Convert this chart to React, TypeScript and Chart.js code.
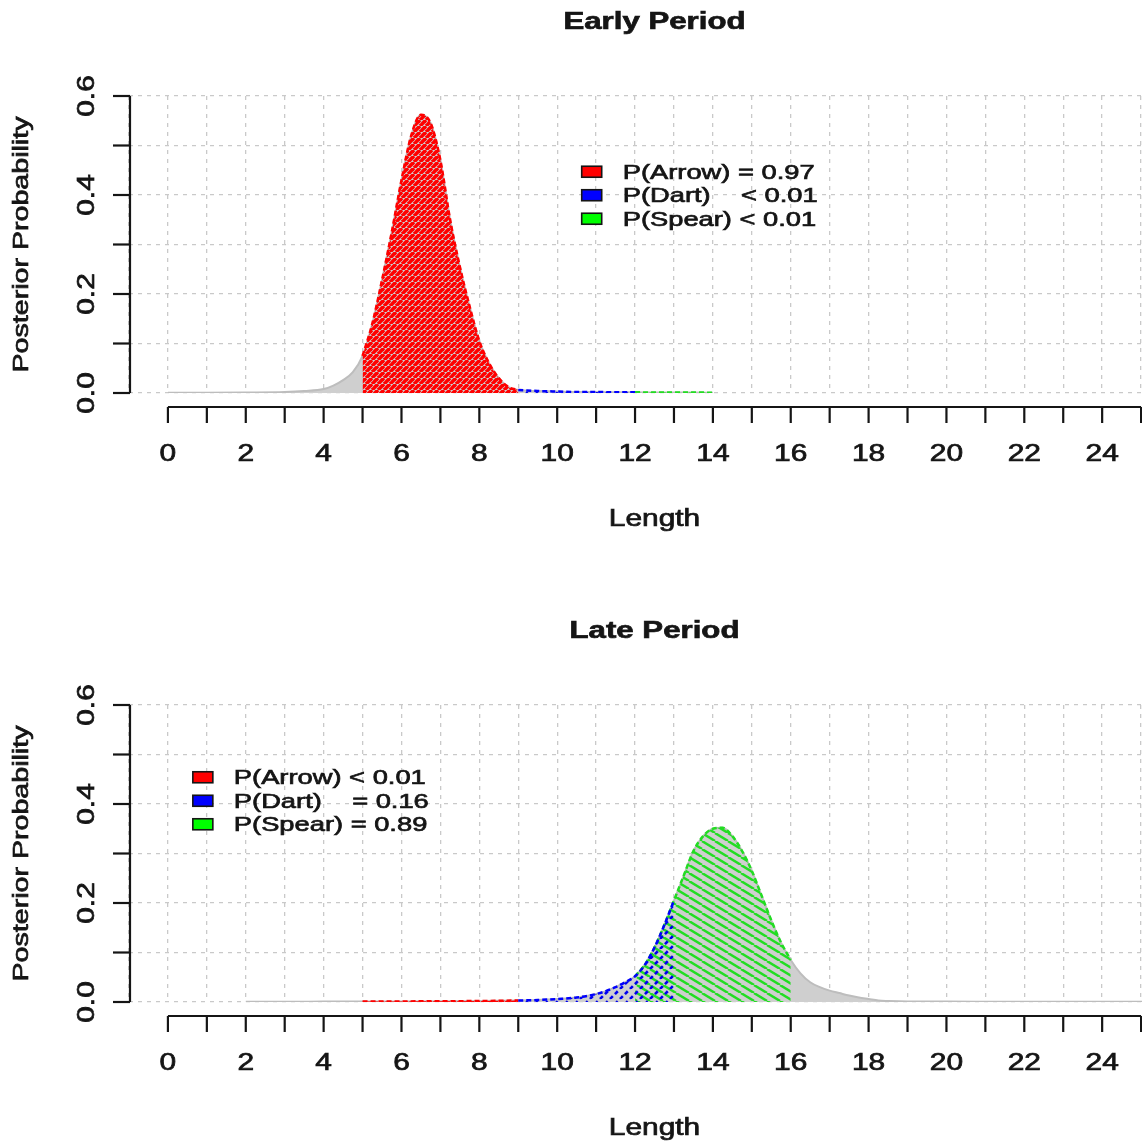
import React, { useEffect, useRef } from 'react';
import { Chart, registerables } from 'chart.js';

Chart.register(...registerables);

// ---------- data ----------
const xGrid = [-1, 0, 1, 2, 3, 4, 5, 6, 7, 8, 9, 10, 11, 12, 13, 14, 15, 16, 17, 18, 19, 20, 21, 22, 23, 24, 25, 26];
const xTicks = [0, 1, 2, 3, 4, 5, 6, 7, 8, 9, 10, 11, 12, 13, 14, 15, 16, 17, 18, 19, 20, 21, 22, 23, 24, 25];
const xTickLabels = ['0', '2', '4', '6', '8', '10', '12', '14', '16', '18', '20', '22', '24'];
const xTickLabelValues = [0, 2, 4, 6, 8, 10, 12, 14, 16, 18, 20, 22, 24];
const yTicks = [0, 0.1, 0.2, 0.3, 0.4, 0.5, 0.6];
const yTickLabels = ['0.0', '0.2', '0.4', '0.6'];
const yTickLabelValues = [0, 0.2, 0.4, 0.6];

const earlyLength = [0, 1, 2, 3, 3.5, 4, 4.25, 4.5, 4.75, 5, 5.25, 5.5, 5.75, 6, 6.25, 6.5, 6.75, 7, 7.25, 7.5, 7.75, 8, 8.25, 8.5, 8.75, 9, 9.5, 10, 10.5, 11, 11.5, 12, 12.5, 13, 13.5, 14];
const earlyDensity = [0.0005, 0.0005, 0.001, 0.002, 0.004, 0.008, 0.015, 0.026, 0.042, 0.075, 0.14, 0.228, 0.325, 0.43, 0.52, 0.562, 0.545, 0.47, 0.35, 0.255, 0.175, 0.105, 0.06, 0.03, 0.012, 0.006, 0.004, 0.003, 0.002, 0.002, 0.0015, 0.0015, 0.001, 0.001, 0.001, 0.0005];

const lateLength = [2, 3, 4, 5, 6, 7, 8, 9, 9.5, 10, 10.5, 11, 11.25, 11.5, 11.75, 12, 12.25, 12.5, 12.75, 13, 13.25, 13.5, 13.75, 14, 14.25, 14.5, 14.75, 15, 15.25, 15.5, 15.75, 16, 16.25, 16.5, 16.75, 17, 17.25, 17.5, 17.75, 18, 18.25, 18.5, 19, 20, 22, 24, 26];
const lateDensity = [0.0005, 0.0005, 0.0008, 0.001, 0.0012, 0.0015, 0.002, 0.003, 0.004, 0.006, 0.009, 0.016, 0.022, 0.03, 0.04, 0.052, 0.075, 0.11, 0.155, 0.205, 0.255, 0.305, 0.335, 0.35, 0.352, 0.335, 0.305, 0.265, 0.215, 0.165, 0.12, 0.085, 0.058, 0.04, 0.03, 0.023, 0.018, 0.013, 0.009, 0.006, 0.003, 0.002, 0.001, 0.0008, 0.0005, 0.0005, 0.0005];

const classColors = ['#ff0000', '#0000ff', '#00ff00'];
const earlyRanges = [[5, 9], [9, 12], [12, 14]];
const lateRanges = [[5, 9], [9, 13], [12, 16]];
const earlyLegend = ['P(Arrow) = 0.97', 'P(Dart)    < 0.01', 'P(Spear) < 0.01'];
const lateLegend = ['P(Arrow) < 0.01', 'P(Dart)    = 0.16', 'P(Spear) = 0.89'];
const earlyLegendAt = { x: 10.63, y: 0.447 };
const lateLegendAt = { x: 0.64, y: 0.454 };

// ---------- styling ----------
const SX = 1.3;
const FONT = '"Liberation Sans", Arial, sans-serif';
const INK = '#151515';
const GRAY = '#cfcfcf';
const GRAY_LINE = '#bdbdbd';
const CANVAS_W = 1182;
const CANVAS_H = 609;

function stretchedText(ctx: CanvasRenderingContext2D, text: string, x: number, y: number, size: number, opts: { bold?: boolean; align?: CanvasTextAlign; rotate?: boolean } = {}) {
  ctx.save();
  ctx.translate(x, y);
  if (opts.rotate) ctx.rotate(-Math.PI / 2);
  ctx.scale(SX, 1);
  ctx.font = `${opts.bold ? 'bold ' : ''}${size}px ${FONT}`;
  ctx.textAlign = opts.align || 'center';
  ctx.textBaseline = 'middle';
  ctx.fillStyle = INK;
  ctx.strokeStyle = INK;
  ctx.lineWidth = 0.7;
  ctx.fillText(text, 0, 0);
  ctx.strokeText(text, 0, 0);
  ctx.restore();
}

function makeHatch(color: string, w: number, h: number, lw: number, dir: 1 | -1, dash?: number[]) {
  const c = document.createElement('canvas');
  c.width = w;
  c.height = h;
  const g = c.getContext('2d')!;
  g.strokeStyle = color;
  g.lineWidth = lw;
  if (dash) g.setLineDash(dash);
  for (let k = -1; k <= 1; k++) {
    g.beginPath();
    if (dir === 1) {
      g.moveTo(k * w, h);
      g.lineTo(k * w + w, 0);
    } else {
      g.moveTo(k * w, 0);
      g.lineTo(k * w + w, h);
    }
    g.stroke();
  }
  return g.createPattern(c, 'repeat')!;
}

type PanelProps = {
  title: string;
  xs: number[];
  ys: number[];
  ranges: number[][];
  legend: string[];
  legendAt: { x: number; y: number };
  top: number;
};

function Panel({ title, xs, ys, ranges, legend, legendAt, top }: PanelProps) {
  const ref = useRef<HTMLCanvasElement>(null);
  useEffect(() => {
    const canvas = ref.current!;
    const patterns = [
      makeHatch('#ff0000', 6, 6, 3.6, 1),
      makeHatch('#0000ee', 10, 10, 2.6, 1, [4, 3]),
      makeHatch('#22dd22', 13, 8, 2.4, -1),
    ];
    const pts = xs.map((x, i) => ({ x, y: ys[i] }));
    const orders = [3, 1, 2];
    const segs = ranges.map(([a, b], k) => ({
      data: pts.filter((p) => p.x >= a && p.x <= b),
      fill: 'origin',
      backgroundColor: patterns[k],
      borderColor: k === 2 ? '#22dd22' : classColors[k],
      borderWidth: 2.5,
      borderDash: [5, 3],
      pointRadius: 0,
      cubicInterpolationMode: 'monotone',
      order: orders[k],
    }));

    const decor = {
      id: 'rDecor',
      afterDraw(chart: any) {
        const { ctx, chartArea: ca, scales } = chart;
        const sx = scales.x;
        const sy = scales.y;
        const y0 = sy.getPixelForValue(0);
        const y6 = sy.getPixelForValue(0.6);
        const cx = (ca.left + ca.right) / 2;
        ctx.save();
        ctx.strokeStyle = INK;
        ctx.lineWidth = 2.2;
        // x axis
        const axY = y0 + 14;
        ctx.beginPath();
        ctx.moveTo(sx.getPixelForValue(xTicks[0]), axY);
        ctx.lineTo(sx.getPixelForValue(xTicks[xTicks.length - 1]), axY);
        ctx.stroke();
        xTicks.forEach((v) => {
          const px = sx.getPixelForValue(v);
          ctx.beginPath();
          ctx.moveTo(px, axY);
          ctx.lineTo(px, axY + 16);
          ctx.stroke();
        });
        xTickLabelValues.forEach((v, i) => {
          stretchedText(ctx, xTickLabels[i], sx.getPixelForValue(v), y0 + 62, 23);
        });
        stretchedText(ctx, 'Length', cx, y0 + 127, 23);
        // y axis
        const axX = ca.left + 1;
        ctx.beginPath();
        ctx.moveTo(axX, y0);
        ctx.lineTo(axX, y6);
        ctx.stroke();
        yTicks.forEach((v) => {
          const py = sy.getPixelForValue(v);
          ctx.beginPath();
          ctx.moveTo(axX, py);
          ctx.lineTo(axX - 17, py);
          ctx.stroke();
        });
        yTickLabelValues.forEach((v, i) => {
          stretchedText(ctx, yTickLabels[i], ca.left - 41, sy.getPixelForValue(v), 23, { rotate: true });
        });
        stretchedText(ctx, 'Posterior Probability', ca.left - 107, (y0 + y6) / 2, 22, { rotate: true });
        // title
        stretchedText(ctx, title, cx, ca.top - 74, 24, { bold: true });
        // legend
        const bx = sx.getPixelForValue(legendAt.x);
        const by = sy.getPixelForValue(legendAt.y);
        legend.forEach((txt, k) => {
          const ry = by + k * 23.5;
          ctx.fillStyle = classColors[k];
          ctx.fillRect(bx, ry - 5.5, 20, 11);
          ctx.lineWidth = 1.6;
          ctx.strokeStyle = INK;
          ctx.strokeRect(bx, ry - 5.5, 20, 11);
          stretchedText(ctx, txt, bx + 41, ry + 1, 21, { align: 'left' });
        });
        ctx.restore();
      },
    };

    const chart = new Chart(canvas, {
      type: 'line',
      data: {
        datasets: [
          {
            data: pts,
            fill: 'origin',
            backgroundColor: GRAY,
            borderColor: GRAY_LINE,
            borderWidth: 2,
            pointRadius: 0,
            cubicInterpolationMode: 'monotone',
            order: 10,
          } as any,
          ...(segs as any[]),
        ],
      },
      options: {
        responsive: false,
        maintainAspectRatio: false,
        animation: false,
        events: [],
        layout: { padding: { left: 129, right: 2, top: 96, bottom: CANVAS_H - 393 } },
        plugins: {
          legend: { display: false },
          title: { display: false },
          tooltip: { enabled: false },
        },
        scales: {
          x: {
            type: 'linear',
            min: -1,
            max: 26,
            afterBuildTicks: (s: any) => {
              s.ticks = xGrid.map((v) => ({ value: v }));
            },
            ticks: { display: false },
            grid: { color: '#c9c9c9', lineWidth: 1.3, drawTicks: false },
            border: { display: false, dash: [4, 5] },
          },
          y: {
            type: 'linear',
            min: 0,
            max: 0.6,
            afterBuildTicks: (s: any) => {
              s.ticks = yTicks.map((v) => ({ value: v }));
            },
            ticks: { display: false },
            grid: { color: '#c9c9c9', lineWidth: 1.3, drawTicks: false },
            border: { display: false, dash: [4, 5] },
          },
        },
      } as any,
      plugins: [decor],
    });
    return () => chart.destroy();
  }, []);
  return (
    <div style={{ position: 'absolute', left: 0, top, width: CANVAS_W, height: CANVAS_H }}>
      <canvas ref={ref} width={CANVAS_W} height={CANVAS_H} style={{ width: CANVAS_W, height: CANVAS_H, display: 'block' }} />
    </div>
  );
}

export default function App() {
  return (
    <div style={{ position: 'absolute', left: 0, top: 0, width: 1142, height: 1146, overflow: 'hidden', background: '#ffffff' }}>
      <Panel title="Early Period" xs={earlyLength} ys={earlyDensity} ranges={earlyRanges} legend={earlyLegend} legendAt={earlyLegendAt} top={0} />
      <Panel title="Late Period" xs={lateLength} ys={lateDensity} ranges={lateRanges} legend={lateLegend} legendAt={lateLegendAt} top={609} />
    </div>
  );
}
